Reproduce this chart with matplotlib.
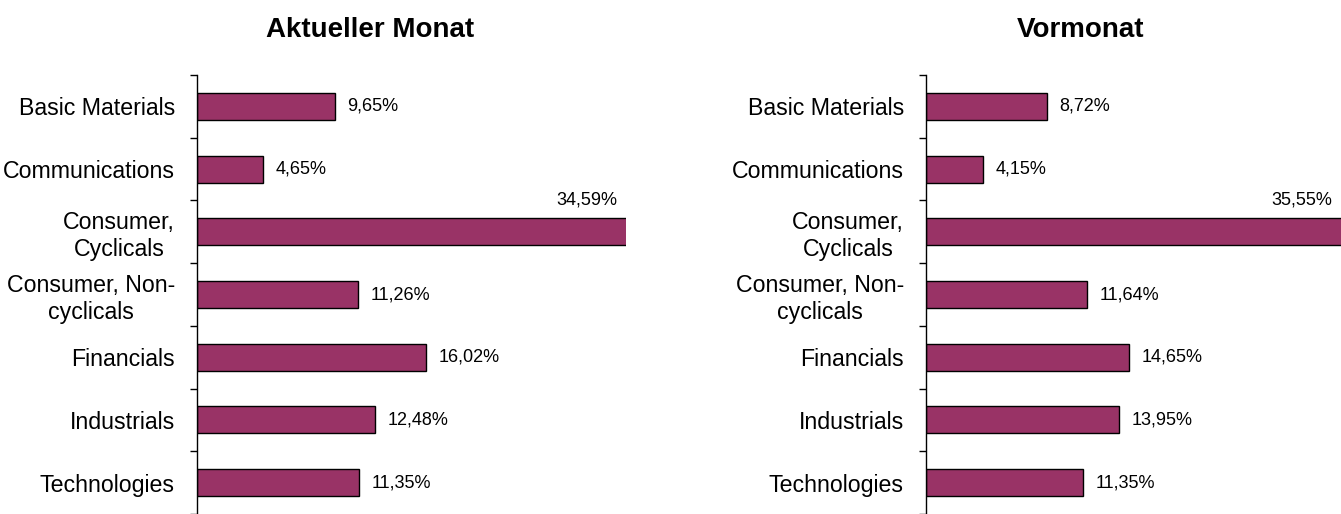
import numpy as np
import matplotlib
matplotlib.use('Agg')
import matplotlib.pyplot as plt
from matplotlib.ticker import FixedLocator

# data
sectors = ['Basic Materials', 'Communications', 'Consumer,\nCyclicals',
           'Consumer, Non-\ncyclicals', 'Financials', 'Industrials', 'Technologies']
current = [9.65, 4.65, 34.59, 11.26, 16.02, 12.48, 11.35]
previous = [8.72, 4.15, 35.55, 11.64, 14.65, 13.95, 11.35]
titles = ['Aktueller Monat', 'Vormonat']

plt.rcParams['font.family'] = ['Liberation Sans', 'DejaVu Sans']
bar_color = '#993366'
xmax = 30

fig = plt.figure(figsize=(13.41, 5.14), dpi=100)
ax_l = fig.add_axes([197/1341, 0.0, 429/1341, 1-75/514])
ax_r = fig.add_axes([926/1341, 0.0, 415/1341, 1-75/514])

def fmt(v):
    return f'{v:.2f}%'.replace('.', ',')

for ax, vals in zip([ax_l, ax_r], [current, previous]):
    y = np.arange(len(sectors))
    ax.barh(y, vals, height=0.43, color=bar_color, edgecolor='black', linewidth=1)
    ax.set_xlim(0, xmax)
    ax.set_ylim(len(sectors)-0.5, -0.5)
    for s in ['top', 'right', 'bottom']:
        ax.spines[s].set_visible(False)
    ax.spines['left'].set_linewidth(1)
    ax.set_xticks([])
    ax.set_yticks(y)
    ax.set_yticklabels(sectors, fontsize=16.7, multialignment='center')
    ax.tick_params(axis='y', which='major', length=0, pad=16)
    ax.yaxis.set_minor_locator(FixedLocator(np.arange(-0.5, len(sectors), 1)))
    ax.tick_params(axis='y', which='minor', length=5, width=1, direction='out')
    for i, v in enumerate(vals):
        if v > xmax:
            ax.annotate(fmt(v), (xmax, i-0.5), xytext=(-6, 0), textcoords='offset points',
                        ha='right', va='center', fontsize=13)
        else:
            ax.annotate(fmt(v), (v, i), xytext=(9, 0), textcoords='offset points',
                        ha='left', va='center', fontsize=13)

fig.text(370/1341, 1-30/514, titles[0], ha='center', va='center', fontsize=20, fontweight='bold')
fig.text(1081/1341, 1-30/514, titles[1], ha='center', va='center', fontsize=20, fontweight='bold')

fig.savefig('out.png', dpi=100, facecolor='white')
